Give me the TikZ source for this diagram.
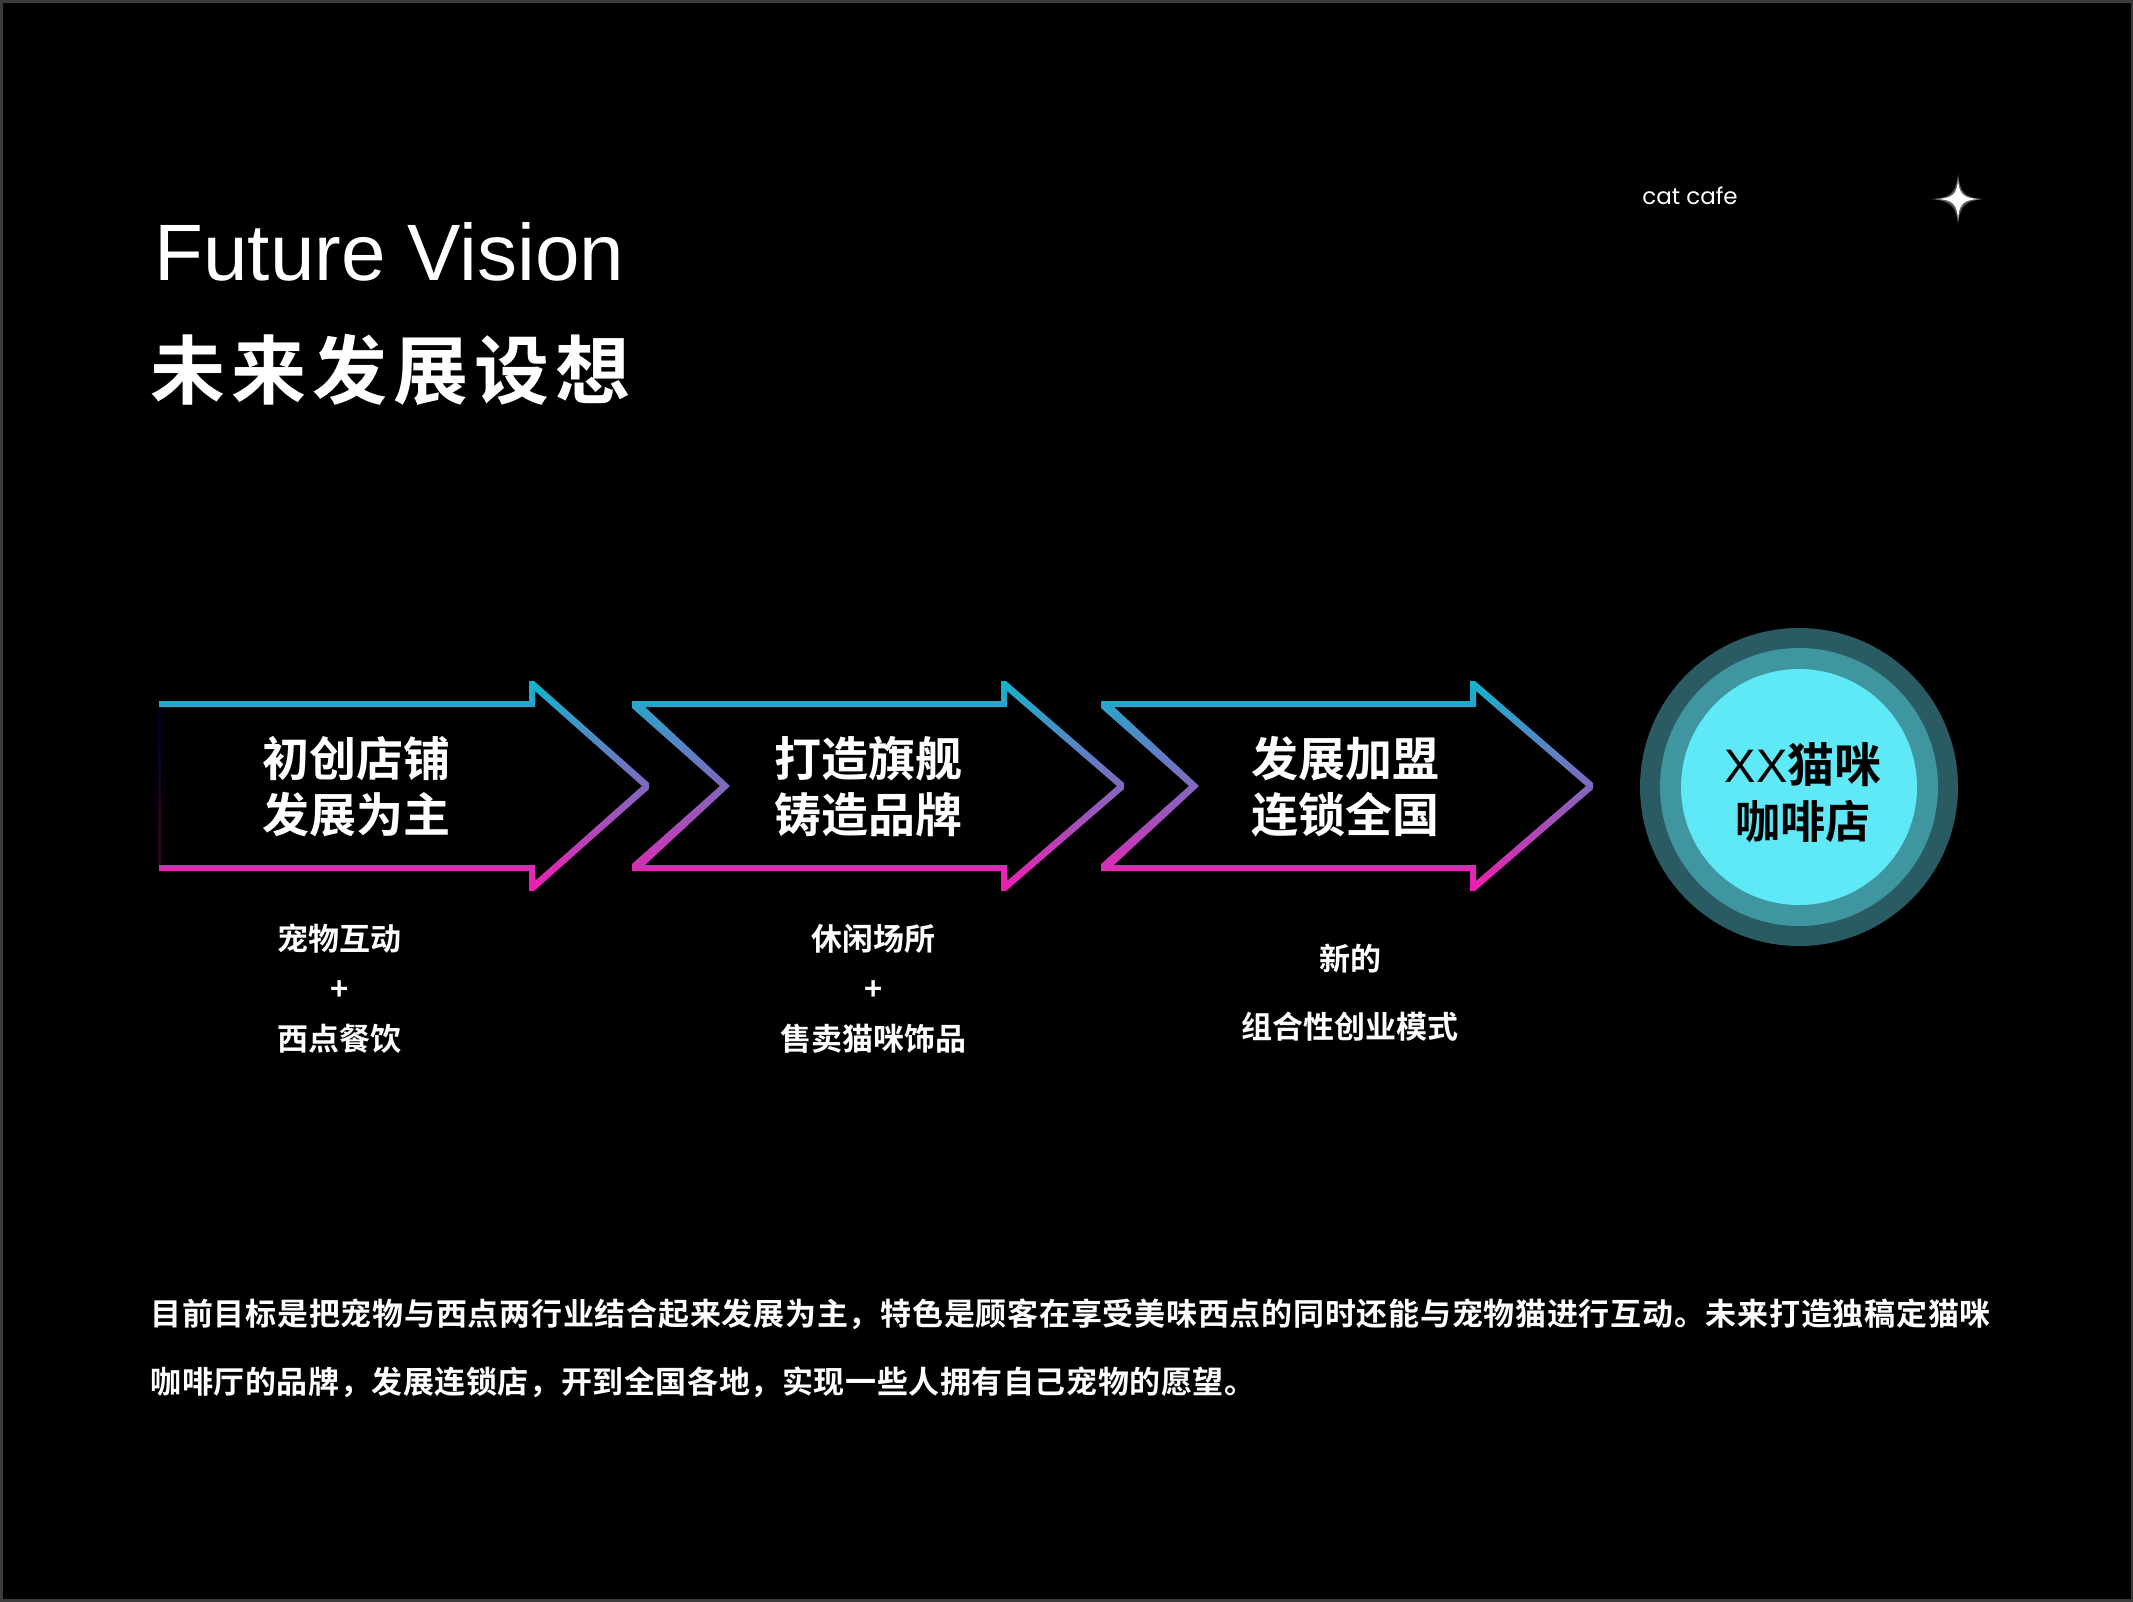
\documentclass[tikz,border=0pt]{standalone}
\usepackage{fontspec}
\usepackage{xcolor}
\setmainfont{Noto Sans CJK SC}[UprightFont={* Medium},BoldFont={* Bold}]
\newfontfamily\latinfont{Poppins}
\newfontfamily\titlefont{Liberation Sans}
\usetikzlibrary{calc}
\definecolor{arrowtop}{HTML}{12B4CE}
\definecolor{arrowbot}{HTML}{F01CB0}
\definecolor{ringout}{HTML}{2A5A62}
\definecolor{ringmid}{HTML}{3F95A0}
\definecolor{ringin}{HTML}{5FE8F6}
\definecolor{frameline}{HTML}{3C3C3C}
\tikzset{
  headtext/.style={text=white,align=center,font=\bfseries\fontsize{47}{56}\selectfont},
  subtext/.style={text=white,font=\bfseries\fontsize{31}{36}\selectfont},
  bodytext/.style={text=white,anchor=west,font=\bfseries\fontsize{31}{36}\selectfont},
  gradarrow/.style={even odd rule,top color=arrowtop,bottom color=arrowbot,shading angle=0}
}
% #1 tail, #2 neck, #3 tip
\newcommand{\tailarrow}[3]{
\shade [gradarrow]
  (#1,701) -- (#2-3,701) -- (#2-3,681) -- (#2+2,681) -- (#3,783) -- (#3,789)
  -- (#2+2,891) -- (#2-3,891) -- (#2-3,871) -- (#1,871) -- (#1,864) -- (#1+88,786)
  -- (#1,708) -- cycle
  (#1+13,707) -- (#2+3,707) -- (#2+3,691) -- (#3-7,786) -- (#2+3,881)
  -- (#2+3,865) -- (#1+13,865) -- (#1+98,786) -- cycle;
}
\begin{document}
\begin{tikzpicture}[x=1pt,y=-1pt]
\useasboundingbox (0,0) rectangle (2133,1601);
\fill [black,draw=frameline,line width=5pt] (0,0) rectangle (2133,1601);

\node [text=white,anchor=west,font=\titlefont\fontsize{80}{90}\selectfont] (title) at (151,252) {Future Vision};
\node [text=white,anchor=west,font=\bfseries\fontsize{75}{80}\selectfont] (subtitle) at (147,370) {\addfontfeatures{LetterSpace=8}未来发展设想};
\node [text=white,font=\latinfont\fontsize{23}{30}\selectfont] (brand) at (1690,196) {cat cafe};
% soft glow under the star
\fill [white,opacity=0.35] (1958,174) .. controls (1960,193) and (1965,198) .. (1983,199)
  .. controls (1965,201) and (1960,206) .. (1958,224)
  .. controls (1956,206) and (1951,201) .. (1931,199)
  .. controls (1951,198) and (1956,193) .. (1958,174) -- cycle;
\fill [white] (1958,178) .. controls (1958.6,194) and (1963,198.4) .. (1980,199)
  .. controls (1963,199.6) and (1958.6,204) .. (1958,221)
  .. controls (1957.4,204) and (1953,199.6) .. (1936,199)
  .. controls (1953,198.4) and (1957.4,194) .. (1958,178) -- cycle;

% first arrow has a plain tail
\shade [top color=black!90!blue,bottom color=arrowbot!20!black] (158.5,707) rectangle (160.5,865);
\shade [gradarrow]
  (159,701) -- (529,701) -- (529,681) -- (534,681) -- (649,783) -- (649,789)
  -- (534,891) -- (529,891) -- (529,871) -- (159,871) -- (159,865) -- (535,865)
  -- (535,881) -- (642,786) -- (535,691) -- (535,707) -- (159,707) -- cycle;
\tailarrow{632}{1004}{1124}
\tailarrow{1101}{1473}{1593}

\node [headtext] (a1) at (356,787) {初创店铺\\发展为主};
\node [headtext] (a2) at (868,787) {打造旗舰\\铸造品牌};
\node [headtext] (a3) at (1345,787) {发展加盟\\连锁全国};

\node [subtext] (s1) at (339,939) {宠物互动};
\node [subtext] (s2) at (340,991) {+};
\node [subtext] (s3) at (339,1039) {西点餐饮};
\node [subtext] (s4) at (873,939) {休闲场所};
\node [subtext] (s5) at (874,991) {+};
\node [subtext] (s6) at (873,1039) {售卖猫咪饰品};
\node [subtext] (s7) at (1350,959) {新的};
\node [subtext] (s8) at (1350,1027) {组合性创业模式};

\fill [ringout] (1799,787) circle (159);
\fill [ringmid] (1799,787) circle (139);
\fill [ringin] (1799,787) circle (118);
\node [text=black,align=center,font=\bfseries\fontsize{47}{56}\selectfont] (shop) at (1803,793) {{\titlefont\mdseries XX}猫咪\\{\fontsize{45}{56}\selectfont 咖啡店}};

\node [bodytext] (p1) at (147,1314) {\addfontfeatures{LetterSpace=2.4}目前目标是把宠物与西点两行业结合起来发展为主，特色是顾客在享受美味西点的同时还能与宠物猫进行互动。未来打造独稿定猫咪};
\node [bodytext] (p2) at (147,1382) {\addfontfeatures{LetterSpace=1.9}咖啡厅的品牌，发展连锁店，开到全国各地，实现一些人拥有自己宠物的愿望。};
\end{tikzpicture}
\end{document}
